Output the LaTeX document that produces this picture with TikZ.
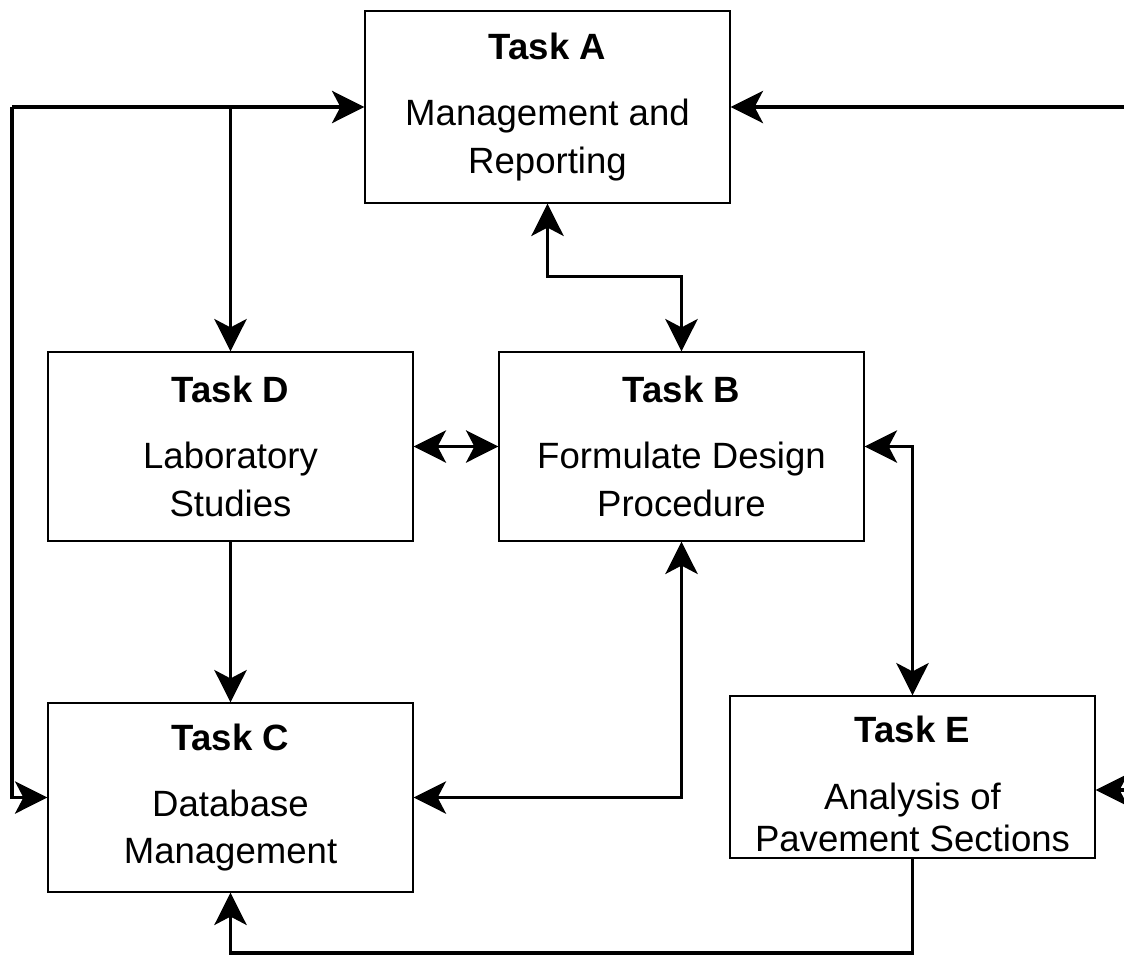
\documentclass[tikz,border=0pt]{standalone}
\usepackage{fontspec}
\setmainfont{Liberation Sans}
\usetikzlibrary{arrows.meta}
\usetikzlibrary{positioning}

\tikzset{
  taskbox/.style={draw,line width=0.9pt,minimum width=9.125cm,minimum height=4.725cm,
    align=center,inner sep=0pt,font=\fontsize{26}{34}\selectfont},
  flow/.style={line width=2.2pt,-{Stealth[length=23pt,width=23pt,inset=6pt]}},
  twoway/.style={line width=2.2pt,{Stealth[length=23pt,width=23pt,inset=6pt]}-{Stealth[length=23pt,width=23pt,inset=6pt]}}
}
\newcommand{\tasktitle}[1]{{\bfseries #1}\\[13pt]}

\begin{document}
\begin{tikzpicture}[x=0.025cm,y=-0.025cm]
  \useasboundingbox (0,0) rectangle (1124,955);
  \begin{scope}[every node/.style={taskbox}]
    \node[minimum height=4.8cm] (A) at (547.5,107) {\tasktitle{Task A}Management and\\Reporting};
    \node (D) at (230.5,446.5) {\tasktitle{Task D}Laboratory\\Studies};
    \node (B) at (681.5,446.5) {\tasktitle{Task B}Formulate Design\\Procedure};
    \node (C) at (230.5,797.5) {\tasktitle{Task C}Database\\Management};
    \node[minimum height=4.05cm] (E) at (912.5,777) {};
    \node[draw=none] (Etext) at ([yshift=-5pt]E.center) {\tasktitle{Task E}Analysis of\\[-4pt]Pavement Sections};
  \end{scope}
  % corners and outside ends
  \coordinate (topleft) at (12,107);
  \coordinate (split) at (230.5,107);
  \coordinate (topright) at (1140,107);
  \coordinate (sideright) at (1140,790);
  \coordinate (bottom) at (912.5,953);
  % connectors
  \draw[flow] (topleft) -- (A.west);
  \draw[flow] (split) -- (D.north);
  \draw[flow] (topright) -- (A.east);
  \draw[flow] (topleft) |- (C.west);
  \draw[flow] (D.south) -- (C.north);
  \draw[twoway] (D.east) -- (B.west);
  \draw[twoway] (A.south) -- ++(0,73) -| (B.north);
  \draw[twoway] (B.east) -| (E.north);
  \draw[twoway] (B.south) |- (C.east);
  \draw[flow] (E.south) -- (bottom) -| (C.south);
  \draw[flow] (sideright) -- (E.east |- sideright);
\end{tikzpicture}
\end{document}
